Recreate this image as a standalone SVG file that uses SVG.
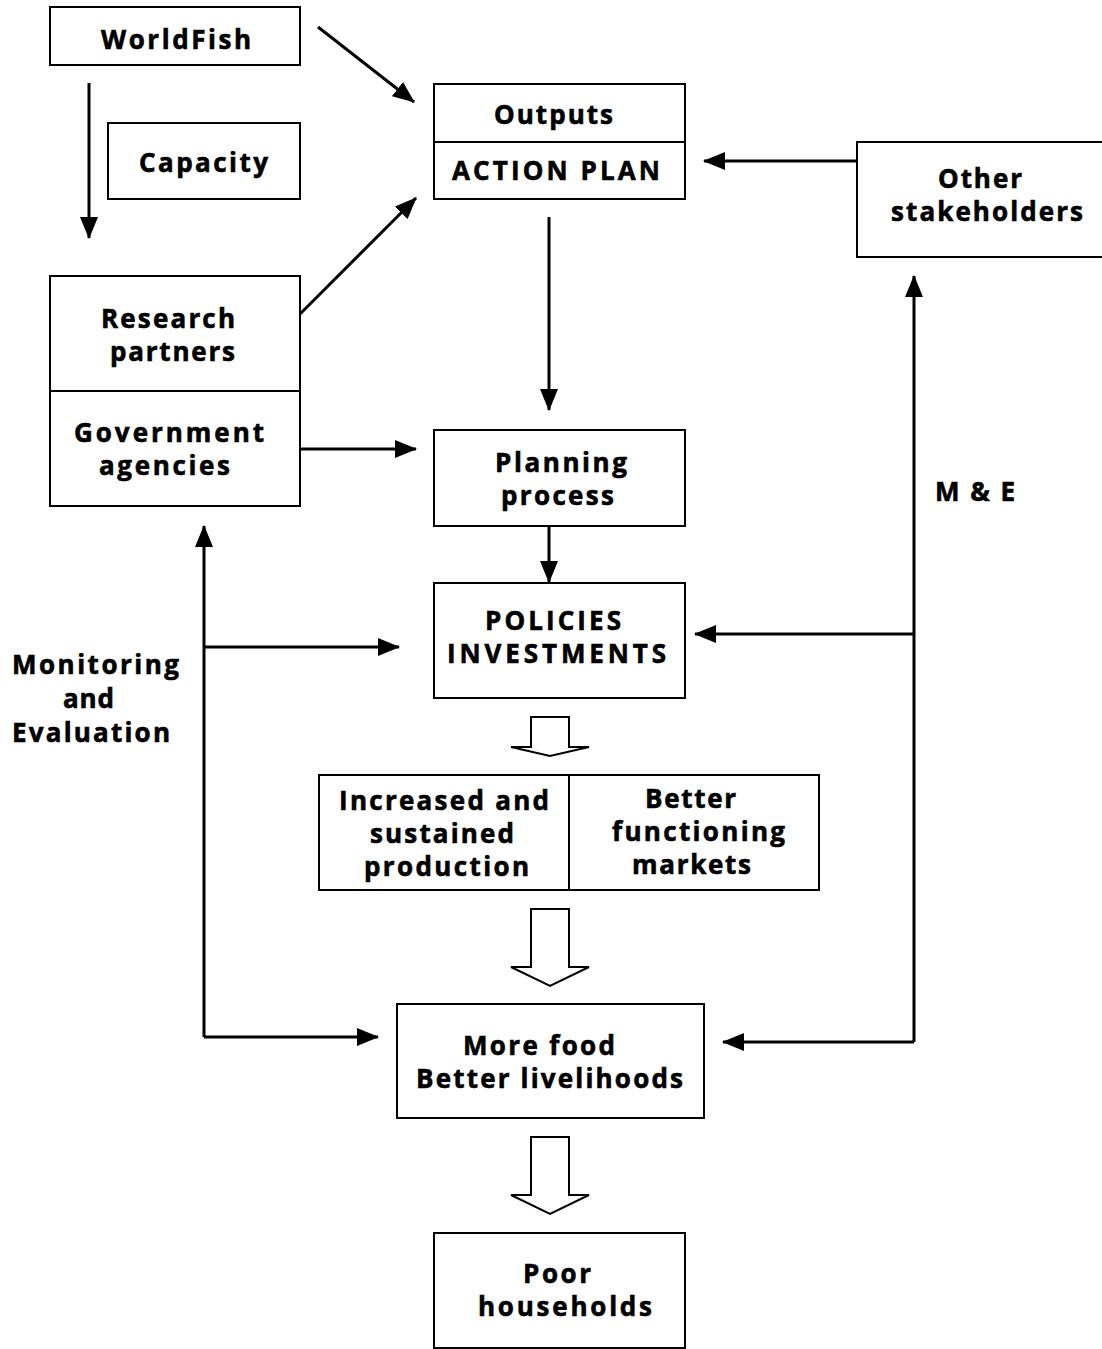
<svg xmlns="http://www.w3.org/2000/svg" width="1102" height="1349" viewBox="0 0 1102 1349">
<defs>
<style>
.box{fill:#fff;stroke:#000;stroke-width:2}
.ln{fill:none;stroke:#000;stroke-width:3}
.hol{fill:#fff;stroke:#000;stroke-width:2;stroke-linejoin:miter}
text{font-family:"Open Sans","Noto Sans","DejaVu Sans",sans-serif;font-weight:700;font-size:26px;fill:#000;stroke:#000;stroke-width:0.6;letter-spacing:3px}
</style>
<marker id="ah" markerWidth="22" markerHeight="18" refX="21" refY="9" orient="auto" markerUnits="userSpaceOnUse">
<path d="M0,0 L22,9 L0,18 z" fill="#000"/>
</marker>
</defs>
<rect width="1102" height="1349" fill="#fff"/>

<g id="worldfish">
<rect class="box" x="50" y="7" width="250" height="58"/>
<text x="101" y="49" textLength="153" lengthAdjust="spacing">WorldFish</text>
</g>
<g id="capacity">
<rect class="box" x="108" y="123" width="192" height="76"/>
<text x="139" y="172" textLength="132" lengthAdjust="spacing">Capacity</text>
</g>
<g id="outputs">
<rect class="box" x="434" y="84" width="251" height="115"/>
<line x1="434" y1="142" x2="685" y2="142" stroke="#000" stroke-width="2"/>
<text x="494" y="124" textLength="122" lengthAdjust="spacing">Outputs</text>
<text x="452" y="180" textLength="211" lengthAdjust="spacing">ACTION PLAN</text>
</g>
<g id="other">
<rect class="box" x="857" y="142" width="250" height="115"/>
<text x="938" y="188" textLength="87" lengthAdjust="spacing">Other</text>
<text x="891" y="221" textLength="195" lengthAdjust="spacing">stakeholders</text>
</g>
<g id="partners">
<rect class="box" x="50" y="276" width="250" height="230"/>
<line x1="50" y1="391" x2="300" y2="391" stroke="#000" stroke-width="2"/>
<text x="101" y="328" textLength="137" lengthAdjust="spacing">Research</text>
<text x="110" y="361" textLength="128" lengthAdjust="spacing">partners</text>
<text x="74" y="442" textLength="193" lengthAdjust="spacing">Government</text>
<text x="99" y="475" textLength="134" lengthAdjust="spacing">agencies</text>
</g>
<g id="planning">
<rect class="box" x="434" y="430" width="251" height="96"/>
<text x="495" y="472" textLength="135" lengthAdjust="spacing">Planning</text>
<text x="501" y="505" textLength="116" lengthAdjust="spacing">process</text>
</g>
<g id="policies">
<rect class="box" x="434" y="583" width="251" height="115"/>
<text x="485" y="630" textLength="139" lengthAdjust="spacing">POLICIES</text>
<text x="447" y="663" textLength="222" lengthAdjust="spacing">INVESTMENTS</text>
</g>
<g id="outcomes">
<rect class="box" x="319" y="775" width="500" height="115"/>
<line x1="569" y1="775" x2="569" y2="890" stroke="#000" stroke-width="2"/>
<text x="339" y="810" textLength="213" lengthAdjust="spacing">Increased and</text>
<text x="370" y="843" textLength="147" lengthAdjust="spacing">sustained</text>
<text x="364" y="876" textLength="168" lengthAdjust="spacing">production</text>
<text x="645" y="808" textLength="94" lengthAdjust="spacing">Better</text>
<text x="612" y="841" textLength="176" lengthAdjust="spacing">functioning</text>
<text x="632" y="874" textLength="122" lengthAdjust="spacing">markets</text>
</g>
<g id="morefood">
<rect class="box" x="397" y="1004" width="307" height="114"/>
<text x="463" y="1055" textLength="155" lengthAdjust="spacing">More food</text>
<text x="416" y="1088" textLength="270" lengthAdjust="spacing">Better livelihoods</text>
</g>
<g id="poor">
<rect class="box" x="434" y="1233" width="251" height="115"/>
<text x="523" y="1283" textLength="71" lengthAdjust="spacing">Poor</text>
<text x="478" y="1316" textLength="177" lengthAdjust="spacing">households</text>
</g>

<g id="labels">
<text x="935" y="501" textLength="83" lengthAdjust="spacing">M &amp; E</text>
<text x="12" y="674" textLength="170" lengthAdjust="spacing">Monitoring</text>
<text x="63" y="708" textLength="54" lengthAdjust="spacing">and</text>
<text x="12" y="742" textLength="161" lengthAdjust="spacing">Evaluation</text>
</g>

<g id="connectors">
<path class="ln" d="M89,83 V238" marker-end="url(#ah)"/>
<path class="ln" d="M318,27 L414,102" marker-end="url(#ah)"/>
<path class="ln" d="M300,314 L416,198" marker-end="url(#ah)"/>
<path class="ln" d="M857,161 H704" marker-end="url(#ah)"/>
<path class="ln" d="M549,217 V410" marker-end="url(#ah)"/>
<path class="ln" d="M300,449 H416" marker-end="url(#ah)"/>
<path class="ln" d="M549,526 V582" marker-end="url(#ah)"/>
<path class="ln" d="M204,1037 V526" marker-end="url(#ah)"/>
<path class="ln" d="M204,647 H399" marker-end="url(#ah)"/>
<path class="ln" d="M204,1037 H378" marker-end="url(#ah)"/>
<path class="ln" d="M914,1042 V276" marker-end="url(#ah)"/>
<path class="ln" d="M914,634 H695" marker-end="url(#ah)"/>
<path class="ln" d="M914,1042 H723" marker-end="url(#ah)"/>
<polygon class="hol" points="531,717 569,717 569,747 589,747 550,756 511,747 531,747"/>
<polygon class="hol" points="531,909 569,909 569,967 589,967 550,986 511,967 531,967"/>
<polygon class="hol" points="531,1137 569,1137 569,1195 589,1195 550,1214 511,1195 531,1195"/>
</g>
</svg>
